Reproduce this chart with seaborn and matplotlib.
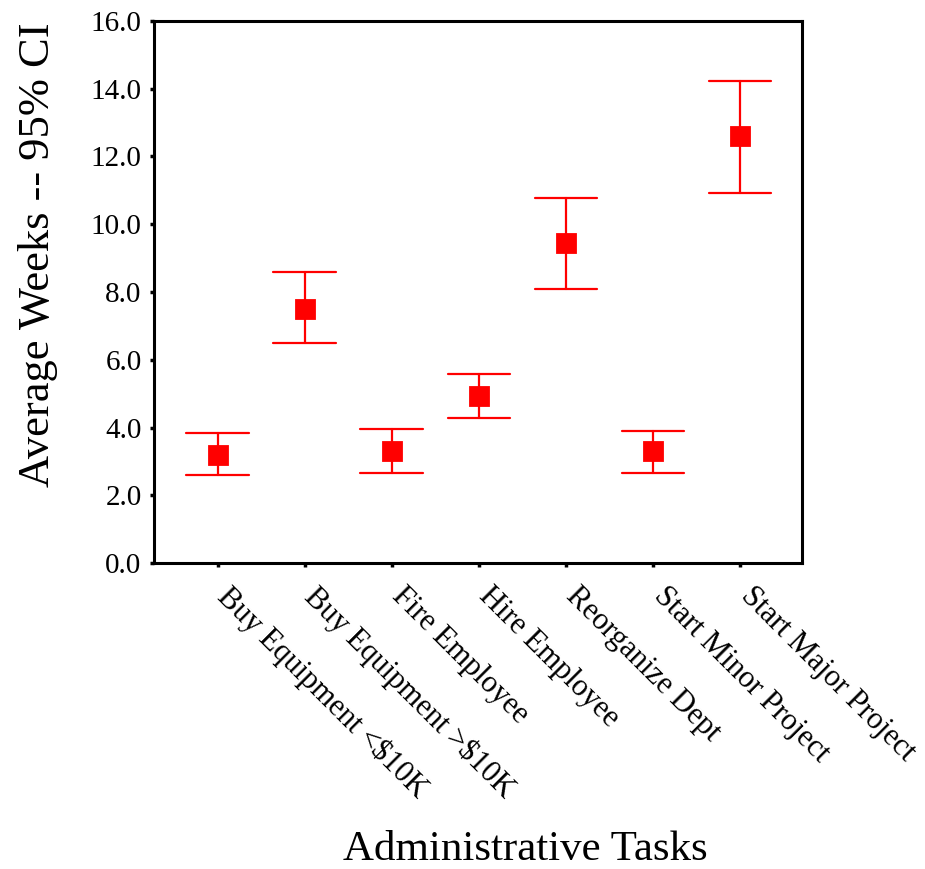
import pandas as pd
import numpy as np
import matplotlib.pyplot as plt
import matplotlib.transforms as mtransforms
import seaborn as sns

# values: 95% CI lower bound, mean, upper bound (weeks)
tasks = [
    "Buy Equipment <$10K",
    "Buy Equipment >$10K",
    "Fire Employee",
    "Hire Employee",
    "Reorganize Dept",
    "Start Minor Project",
    "Start Major Project",
]
ci_low = [2.6, 6.48, 2.65, 4.28, 8.08, 2.66, 10.93]
means = [3.18, 7.5, 3.3, 4.92, 9.45, 3.3, 12.6]
ci_high = [3.83, 8.6, 3.95, 5.58, 10.78, 3.9, 14.22]
yticks = [0, 2, 4, 6, 8, 10, 12, 14, 16]

sns.set_style("ticks")
plt.rcParams["font.family"] = ["Liberation Serif", "DejaVu Serif"]

# long form: median of (low, mean, high) is the mean, full interval is the CI
df = pd.DataFrame({
    "task": np.repeat(tasks, 3),
    "weeks": np.column_stack([ci_low, means, ci_high]).ravel(),
})

fig = plt.figure(figsize=(9.25, 8.69), dpi=100)
ax = fig.add_axes([0.1665, 0.352, 0.7005, 0.624])

sns.pointplot(
        data=df,
        x="task",
        y="weeks",
        order=tasks,
        estimator="median",
        errorbar=("pi", 100),
        color="#ff0000",
        marker="s",
        markersize=12.5,
        linestyle="none",
        capsize=0.72,
        err_kws={"linewidth": 1.6},
        ax=ax,
        )

ax.set_ylim(0, 16)
ax.set_xlim(-0.73, 6.71)
ax.set_yticks(yticks)
ax.set_yticklabels(["%.1f" % v for v in yticks], fontsize=21)
ax.set_xticks(range(len(tasks)))
ax.set_xticklabels(tasks, fontsize=22, rotation=-45, ha="left", va="top",
                   rotation_mode="anchor")

for side in ["left", "right", "top", "bottom"]:
    ax.spines[side].set_linewidth(2.2)
    ax.spines[side].set_color("black")
ax.tick_params(axis="both", direction="out", length=3, width=2.5, color="black",
               labelcolor="black", pad=6)

# nudge the slanted labels right/down like the original
# (after tick_params, which resets the label transforms)
shift = mtransforms.ScaledTranslation(0.15, -0.06, fig.dpi_scale_trans)
for lbl in ax.get_xticklabels():
    lbl.set_transform(lbl.get_transform() + shift)

ax.set_ylabel("Average Weeks -- 95% CI", fontsize=32, color="black")
ax.set_xlabel("Administrative Tasks", fontsize=31, color="black")
ax.yaxis.set_label_coords(-0.148, 0.568)
ax.xaxis.set_label_coords(0.573, -0.494)

fig.savefig("out.png", dpi=100)
